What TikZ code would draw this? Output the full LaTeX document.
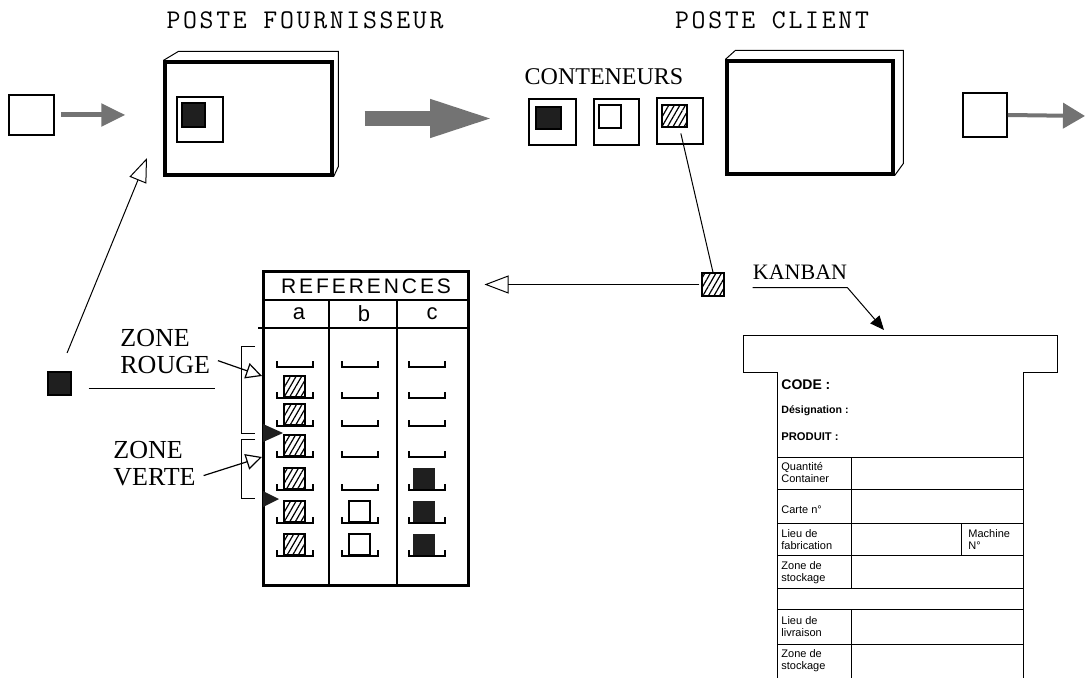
\documentclass[tikz,border=0pt]{standalone}
\usepackage{fontspec}
\setmainfont{Liberation Serif}
\setsansfont{Liberation Sans}
\setmonofont{Liberation Mono}
\newfontfamily\postefont[LetterSpace=10]{Latin Modern Mono}
\newfontfamily\refsfont[LetterSpace=14]{Liberation Sans}
\usetikzlibrary{arrows.meta, calc, patterns.meta}
\definecolor{inkgrey}{gray}{0.45}
\definecolor{inkdark}{gray}{0.12}
\tikzset{
  poste/.style={draw, line width=1.6pt, inner sep=0pt},
  bac/.style={draw, line width=1pt, inner sep=0pt},
  fiche/.style={draw, line width=0.6pt, inner sep=0pt},
  darkfiche/.style={fiche, fill=inkdark},
  hatchfiche/.style={fiche, pattern={Lines[angle=60, distance=2.4pt, line width=0.6pt]}},
  thinline/.style={line width=0.5pt},
  slot/.style={line width=0.7pt},
  flux/.style={-{Triangle[length=12pt, width=11pt]}, line width=2.5pt, draw=inkgrey},
  bigflux/.style={-{Triangle[length=33pt, width=17pt]}, line width=7.5pt, draw=inkgrey},
  outflux/.style={-{Triangle[length=11pt, width=12.5pt]}, line width=2pt, draw=inkgrey},
  retour/.style={-{Triangle[open, length=12pt, width=9pt]}, line width=0.5pt},
  zonearrow/.style={-{Triangle[open, length=8pt, width=8pt]}, line width=0.6pt},
  titre/.style={font=\postefont\fontsize{13.5}{15}\selectfont},
  zonelbl/.style={font=\rmfamily\fontsize{13}{13.5}\selectfont, align=left, inner sep=0pt},
  colhead/.style={font=\sffamily\fontsize{11}{12}\selectfont},
  cardlbl/.style={font=\sffamily\fontsize{5.5}{6}\selectfont, align=left, inner sep=0pt},
  every node/.append style={font=\rmfamily}
}

\begin{document}
\begin{tikzpicture}[x=0.5pt, y=-0.5pt]
\useasboundingbox (0,0) rectangle (1085,678);

% postes
\node[titre] (tfourn) at (305,20) {POSTE FOURNISSEUR};
\node[titre] (tclient) at (772,20) {POSTE CLIENT};

\node[poste, minimum width=83.5pt, minimum height=56.5pt] (fourn) at (248.5,118.5) {};
\draw[thinline] (fourn.north west) -- ++(15,-9) -- ++(160,0) -- ++(0,115) -- (fourn.south east);
\node[bac, line width=0.8pt, minimum width=23pt, minimum height=22.5pt] (fslot) at (200,119.5) {};
\node[darkfiche, minimum width=11.5pt, minimum height=12pt] (fcard) at (193.5,115) {};

\node[poste, minimum width=83pt, minimum height=56.5pt] (client) at (810,117.5) {};
\draw[thinline] (client.north west) -- ++(10,-9) -- ++(168,0) -- ++(0,113) -- (client.south east);

% flux
\node[fiche, line width=0.8pt, minimum width=22.5pt, minimum height=20pt] (insq) at (31.5,115) {};
\draw[flux, shorten <=3pt, shorten >=19pt] (insq.east) -- (insq.east -| fourn.west);

\node[font=\rmfamily\fontsize{12}{13}\selectfont] (conts) at (604,77) {CONTENEURS};
\node[bac, minimum width=23.5pt, minimum height=23pt] (cont1) at (552.5,122) {};
\node[darkfiche, minimum width=12.5pt, minimum height=11pt] (card1) at (548.5,118) {};
\node[bac, minimum width=22.5pt, minimum height=23pt] (cont2) at (616.5,122) {};
\node[fiche, minimum width=11pt, minimum height=11.5pt] (card2) at (610,116.5) {};
\node[bac, minimum width=23pt, minimum height=23pt] (cont3) at (680,121) {};
\node[hatchfiche, minimum width=12.5pt, minimum height=11pt] (card3) at (674.5,116) {};
\draw[bigflux, shorten <=15.5pt, shorten >=16pt] (fourn.east) -- (fourn.east -| cont1.west);

\node[fiche, line width=0.8pt, minimum width=22pt, minimum height=22pt] (outsq) at (985,115) {};
\coordinate (outend) at (1085,116);
\draw[outflux] (outsq.east) -- (outend);

% retour du kanban
\node[hatchfiche, minimum width=11pt, minimum height=11.5pt] (kbsq) at (713,284.5) {};
\draw[thinline, shorten <=3pt] ([xshift=2.5pt]card3.south) -- (kbsq.north);

% tableau
\node[draw, line width=1.5pt, minimum width=102.5pt, minimum height=156.5pt, inner sep=0pt] (reftab) at (365.5,428.5) {};
\node[font=\refsfont\fontsize{10.5}{12}\selectfont] (refhead) at (366,286) {REFERENCES};
\draw[retour, shorten <=1pt, shorten >=7.5pt] (kbsq.west) -- (kbsq.west -| reftab.east);
\draw[line width=0.8pt] (263,300) -- (468,300);
\draw[line width=0.8pt] (258,328) -- (468,328);
\draw[line width=0.8pt] (329,300) -- (329,585) (397,300) -- (397,585);
\node[colhead] (cola) at (299,314) {a};
\node[colhead] (colb) at (364,314) {b};
\node[colhead] (colc) at (432,314) {c};

\foreach \y in {367,398,426,457,490,523,556}
  \foreach \x in {295,360,427}
    \draw[slot] (\x-18,\y-6) -- (\x-18,\y) -- (\x+18,\y) -- (\x+18,\y-6);
\foreach \y in {398,426,457,490,523,556}
  \draw[hatchfiche] (284,\y-1) rectangle ++(21,-21);
\foreach \y in {523,556}
  \draw[fiche] (349,\y-1) rectangle ++(21,-21);
\foreach \y in {490,523,556}
  \fill[inkdark] (413,\y-1) rectangle ++(22,-21);

% zones
\draw[thinline] (255,346) -- (241,346) -- (241,433) -- (255,433);
\draw[thinline] (255,439) -- (241,439) -- (241,498) -- (255,498);
\fill[inkdark] (263,424) -- (283,433) -- (263,442) -- cycle;
\fill[inkdark] (263,491) -- (279,499) -- (263,507) -- cycle;
\node[zonelbl, anchor=west] (zrouge) at (120,352) {ZONE\\ROUGE};
\node[zonelbl, anchor=west] (zverte) at (113,464) {ZONE\\VERTE};
\coordinate (rougetip) at (262,376);
\coordinate (vertetip) at (262,457);
\draw[zonearrow, shorten <=4pt] ([yshift=-3pt]zrouge.east) -- (rougetip);
\draw[zonearrow, shorten <=4pt] ([yshift=-7pt]zverte.east) -- (vertetip);

\node[darkfiche, minimum width=11.5pt, minimum height=11.5pt] (mark) at (59.5,383.5) {};
\coordinate (railend) at (215,388);
\draw[thinline, shorten <=8.5pt] (mark.east |- railend) -- (railend);
\coordinate (backtip) at (147,158);
\draw[retour, shorten <=10pt] (mark.north) -- (backtip);

% kanban
\node[font=\rmfamily\fontsize{11}{13}\selectfont, inner xsep=0pt, inner ysep=4pt] (kanban) at (800,272) {KANBAN};
\coordinate (kbtip) at (884,330);
\draw[thinline, -{Triangle[length=7pt, width=6pt]}] (kanban.south west) -- (kanban.south east) -- (kbtip);

\draw[thinline] (777,678) -- (777,372) -- (743,372) -- (743,335) -- (1057,335) -- (1057,372) -- (1023,372) -- (1023,678);
\foreach \y in {457,489,523,555,588,609,644}
  \draw[thinline] (777,\y) -- (1023,\y);
\foreach \ya/\yb in {457/489,489/523,523/555,555/588,609/644,644/678}
  \draw[thinline] (851,\ya) -- (851,\yb);
\draw[thinline] (961,523) -- (961,555);

\node[cardlbl, anchor=west, font=\sffamily\bfseries\fontsize{7}{8}\selectfont] (code) at (781,385) {CODE :};
\node[cardlbl, anchor=west, font=\sffamily\bfseries\fontsize{5.3}{6}\selectfont] (design) at (781,411) {Désignation :};
\node[cardlbl, anchor=west, font=\sffamily\bfseries\fontsize{5.6}{6}\selectfont] (produit) at (781,437) {PRODUIT :};
\node[cardlbl, anchor=west] (qte) at (781,473) {Quantité\\Container};
\node[cardlbl, anchor=west] (carte) at (781,510) {Carte n°};
\node[cardlbl, anchor=west] (lieufab) at (781,540) {Lieu de\\fabrication};
\node[cardlbl, anchor=west] (machine) at (968,540) {Machine\\N°};
\node[cardlbl, anchor=west] (zstock) at (781,573) {Zone de\\stockage};
\node[cardlbl, anchor=west] (lieuliv) at (781,627) {Lieu de\\livraison};
\node[cardlbl, anchor=west] (zstockb) at (781,661) {Zone de\\stockage};
\end{tikzpicture}
\end{document}
